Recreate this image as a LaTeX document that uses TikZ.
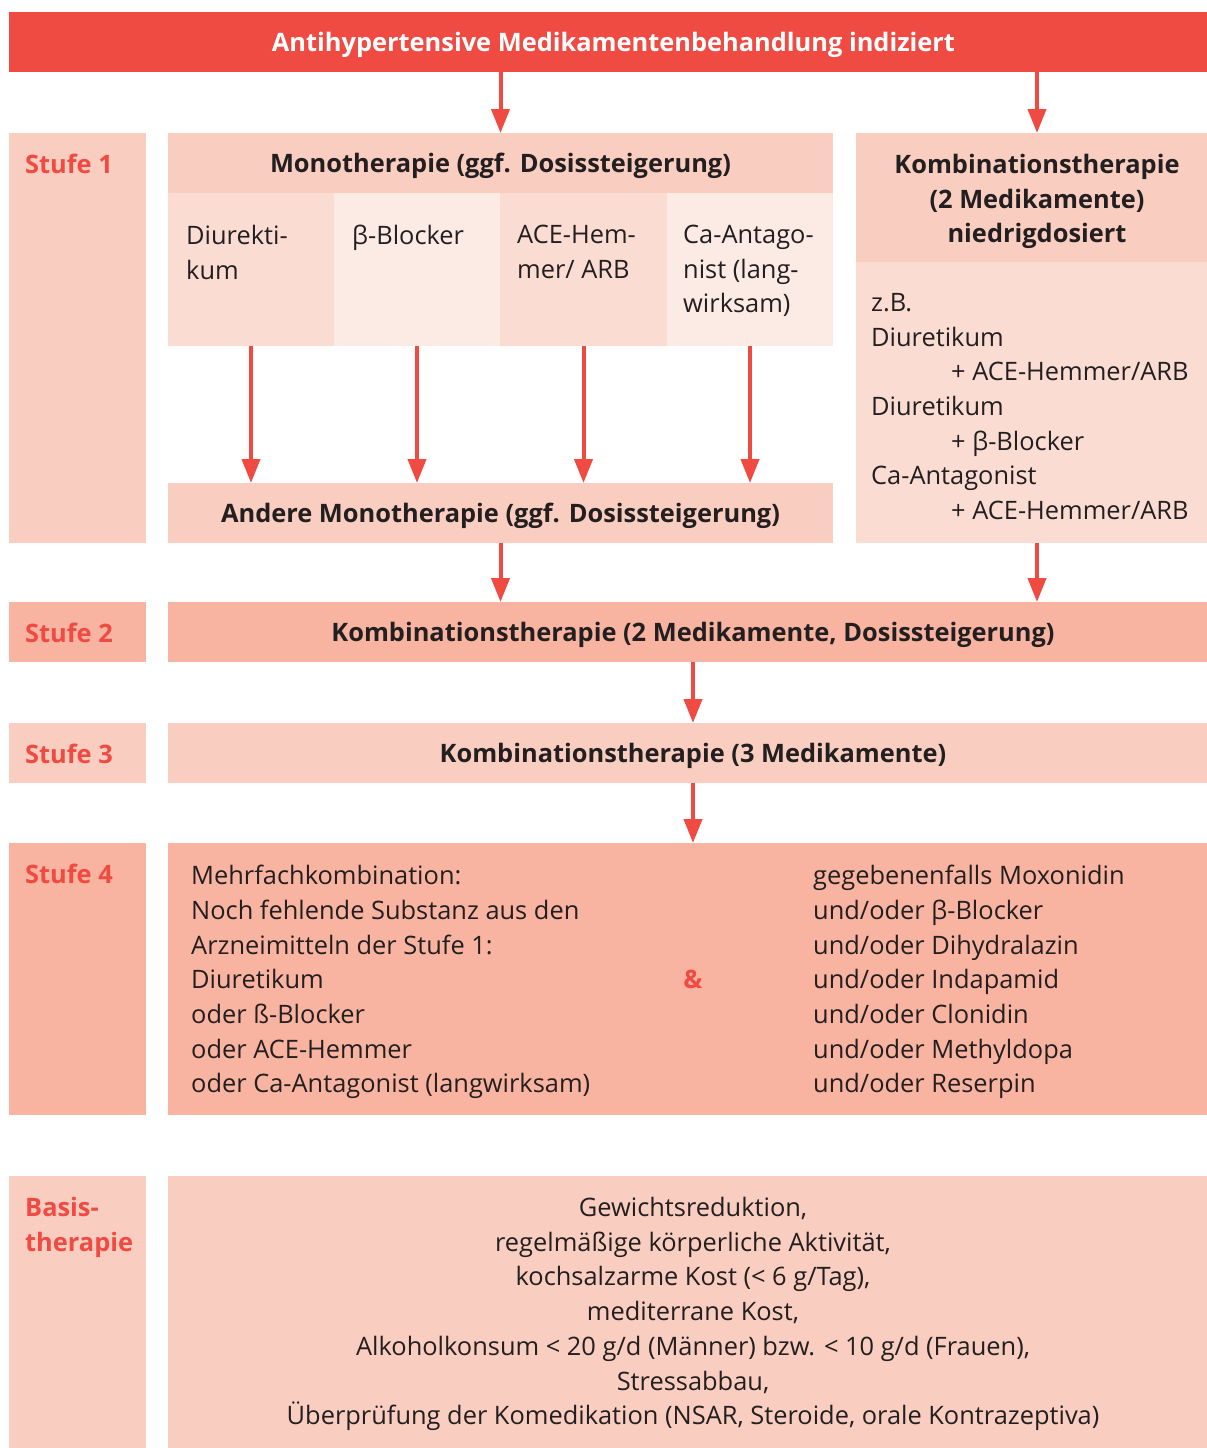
\documentclass[tikz,border=0pt]{standalone}
\usepackage{fontspec}
\setmainfont{Open Sans}
\usetikzlibrary{arrows.meta,positioning,calc}
\definecolor{hdred}{HTML}{EF4B43}
\definecolor{peach}{HTML}{F9CDBF}
\definecolor{salmon}{HTML}{F8B4A0}
\definecolor{cellA}{HTML}{FADCD2}
\definecolor{cellB}{HTML}{FCEAE4}
\definecolor{ink}{HTML}{231F20}
\newcommand{\fsz}{\fontsize{25.4}{34.7}\selectfont}

\begin{document}
\begin{tikzpicture}[x=1pt,y=-1pt,
box/.style={
  draw=none,
  inner sep=0pt,
  outer sep=0pt,
  anchor=north west,
  text=ink,
  font=\fsz\bfseries,
  align=center
  },
oneline/.style={
  text height=24pt,
  text depth=6pt
  },
lbl/.style={
  inner sep=0pt,
  anchor=north west,
  text=hdred,
  font=\fsz\bfseries,
  align=left
  },
txt/.style={
  inner sep=0pt,
  anchor=north west,
  text=ink,
  font=\fsz,
  align=left
  },
arr/.style={
  draw=hdred,
  line width=4pt,
  -{Triangle[width=18pt,length=24pt]}
  }
]
\clip (0,0) rectangle (1207,1448);

% header
\node[box, oneline, fill=hdred, text=white, minimum width=1209pt, minimum height=60pt]
  (title) at (9,12) {Antihypertensive Medikamentenbehandlung indiziert};

% Stufe 1
\node[box, fill=peach, minimum width=137pt, minimum height=410pt] (s1) at (9,133) {};
\node[lbl] (s1t) at ([shift={(16,21)}]s1.north west) {Stufe 1};
\node[box, oneline, fill=peach, minimum width=665pt, minimum height=60pt]
  (mono) at (168,133) {Monotherapie (ggf. Dosissteigerung)};
\node[box, fill=cellA, minimum width=166pt, minimum height=153pt] (c1) at (168,193) {};
\node[box, fill=cellB, minimum width=166pt, minimum height=153pt] (c2) at (334,193) {};
\node[box, fill=cellA, minimum width=167pt, minimum height=153pt] (c3) at (500,193) {};
\node[box, fill=cellB, minimum width=166pt, minimum height=153pt] (c4) at (667,193) {};
\node[txt] (c1t) at ([shift={(18,32)}]c1.north west) {Diurekti-\\kum};
\node[txt] (c2t) at ([shift={(18,32)}]c2.north west) {β-Blocker};
\node[txt] (c3t) at ([shift={(17,32)}]c3.north west) {ACE-Hem-\\mer/ ARB};
\node[txt] (c4t) at ([shift={(16,32)}]c4.north west) {Ca-Antago-\\nist (lang-\\wirksam)};
\node[box, oneline, fill=peach, minimum width=665pt, minimum height=60pt]
  (andere) at (168,483) {Andere Monotherapie (ggf. Dosissteigerung)};

\node[box, fill=peach, minimum width=362pt, minimum height=129pt] (kombi) at (856,133) {};
\node[box, anchor=center] (kombit) at ([shift={(0,4)}]kombi.center)
  {Kombinationstherapie\\(2 Medikamente)\\niedrigdosiert};
\node[box, fill=cellA, minimum width=362pt, minimum height=281pt] (kbody) at (856,262) {};
\node[txt] (kbt) at ([shift={(15,31)}]kbody.north west)
  {z.B.\\Diuretikum\\\hspace*{80pt}+ ACE-Hemmer/ARB\\Diuretikum\\\hspace*{80pt}+ β-Blocker\\
   Ca-Antagonist\\\hspace*{80pt}+ ACE-Hemmer/ARB};

% Stufe 2
\node[box, fill=salmon, minimum width=137pt, minimum height=60pt] (s2) at (9,602) {};
\node[lbl] (s2t) at ([shift={(16,21)}]s2.north west) {Stufe 2};
\node[box, oneline, fill=salmon, minimum width=1050pt, minimum height=60pt]
  (s2m) at (168,602) {Kombinationstherapie (2 Medikamente, Dosissteigerung)};

% Stufe 3
\node[box, fill=peach, minimum width=137pt, minimum height=60pt] (s3) at (9,723) {};
\node[lbl] (s3t) at ([shift={(16,21)}]s3.north west) {Stufe 3};
\node[box, oneline, fill=peach, minimum width=1050pt, minimum height=60pt]
  (s3m) at (168,723) {Kombinationstherapie (3 Medikamente)};

% Stufe 4
\node[box, fill=salmon, minimum width=137pt, minimum height=272pt] (s4) at (9,843) {};
\node[lbl] (s4t) at ([shift={(16,21)}]s4.north west) {Stufe 4};
\node[box, fill=salmon, minimum width=1050pt, minimum height=272pt] (s4m) at (168,843) {};
\node[txt] (s4l) at ([shift={(23,22)}]s4m.north west)
  {Mehrfachkombination:\\Noch fehlende Substanz aus den\\Arzneimitteln der Stufe 1:\\
   Diuretikum\\oder ß-Blocker\\oder ACE-Hemmer\\oder Ca-Antagonist (langwirksam)};
\node[txt] (s4r) at ([shift={(645,22)}]s4m.north west)
  {gegebenenfalls Moxonidin\\und/oder β-Blocker\\und/oder Dihydralazin\\und/oder Indapamid\\
   und/oder Clonidin\\und/oder Methyldopa\\und/oder Reserpin};
\node[inner sep=0pt, text=hdred, font=\fsz\bfseries] (amp) at (s4m.center) {\&};

% Basistherapie
\node[box, fill=peach, minimum width=137pt, minimum height=272pt] (sb) at (9,1176) {};
\node[lbl] (sbt) at ([shift={(16,21)}]sb.north west) {Basis-\\therapie};
\node[box, fill=peach, minimum width=1050pt, minimum height=272pt] (sbm) at (168,1176) {};
\node[box, font=\fsz, anchor=center] (sbmt) at ([shift={(0,2)}]sbm.center)
  {Gewichtsreduktion,\\regelmäßige körperliche Aktivität,\\kochsalzarme Kost (< 6 g/Tag),\\
   mediterrane Kost,\\Alkoholkonsum < 20 g/d (Männer) bzw. < 10 g/d (Frauen),\\Stressabbau,\\
   Überprüfung der Komedikation (NSAR, Steroide, orale Kontrazeptiva)};

% arrows
\draw[arr] (title.south -| mono.north) -- (mono.north);
\draw[arr] (title.south -| kombi.north) -- (kombi.north);
\foreach \c in {c1,c2,c3,c4}
  \draw[arr] (\c.south) -- (\c.south |- andere.north);
\draw[arr] (andere.south) -- (andere.south |- s2m.north);
\draw[arr] (kbody.south) -- (kbody.south |- s2m.north);
\draw[arr] (s2m.south) -- (s3m.north);
\draw[arr] (s3m.south) -- (s4m.north);
\end{tikzpicture}
\end{document}
